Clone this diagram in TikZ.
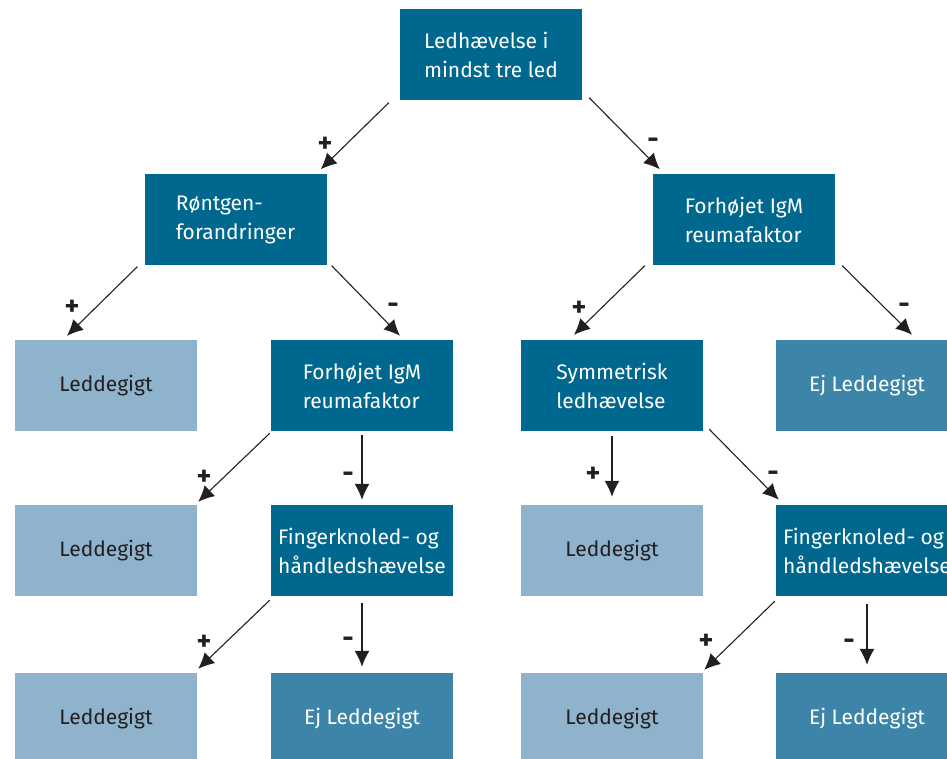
\documentclass[tikz,border=0pt]{standalone}
\usepackage{fontspec}
\setmainfont{Fira Sans}
\usetikzlibrary{arrows.meta}
\definecolor{darkblue}{RGB}{0,104,142}
\definecolor{midblue}{RGB}{60,133,168}
\definecolor{lightblue}{RGB}{143,179,204}
\definecolor{inkgray}{RGB}{35,31,32}
\begin{document}
\begin{tikzpicture}[x=1pt,y=-1pt,
    box/.style={minimum width=182pt,minimum height=91pt,inner sep=0pt,align=left,
      font=\fontsize{21}{29}\selectfont},
    question/.style={box,fill=darkblue,text=white},
    yes/.style={box,fill=lightblue,text=inkgray},
    no/.style={box,fill=midblue,text=white},
    arr/.style={-{Latex[length=16pt,width=15pt]},line width=1.1pt,color=inkgray},
    sign/.style={font=\fontsize{28}{28}\selectfont\bfseries,text=inkgray,inner sep=0pt}]
  \useasboundingbox (0,0) rectangle (947,759);
  \clip (0,0) rectangle (947,759);

  % boxes
  \node[question] (top) at (491,55) {Ledhævelse i\\mindst tre led};
  \node[question] (roent) at (235.5,220) {Røntgen-\\forandringer};
  \node[question] (rheumR) at (744,220) {Forhøjet IgM\\reumafaktor};

  \node[yes] (led1) at (106,385.5) {Leddegigt};
  \node[question] (rheumL) at (362,385.5) {Forhøjet IgM\\reumafaktor};
  \node[question] (sym) at (612,385.5) {Symmetrisk\\ledhævelse};
  \node[no] (ej1) at (867,385.5) {Ej Leddegigt};

  \node[yes] (led2) at (106,550.5) {Leddegigt};
  \node[question] (fing1) at (362,550.5) {Fingerknoled- og\\håndledshævelse};
  \node[yes] (led3) at (612,550.5) {Leddegigt};
  \node[question] (fing2) at (867,550.5) {Fingerknoled- og\\håndledshævelse};

  \node[yes] (led4) at (106,718.5) {Leddegigt};
  \node[no] (ej2) at (362,718.5) {Ej Leddegigt};
  \node[yes] (led5) at (612,718.5) {Leddegigt};
  \node[no] (ej3) at (867,718.5) {Ej Leddegigt};

  % connectors
  \draw[arr] ([shift={(-11,2)}]top.south west) -- ([shift={(-6,-5)}]roent.north east);
  \draw[arr] ([shift={(7,-3)}]top.south east) -- ([shift={(7,-5)}]rheumR.north west);

  \draw[arr] ([shift={(-7,1)}]roent.south west) -- ([shift={(-39,-4)}]led1.north);
  \draw[arr] ([shift={(5,0)}]roent.south east) -- ([shift={(38,-4)}]rheumL.north);
  \draw[arr] ([shift={(-8,0)}]rheumR.south west) -- ([shift={(-38,-5)}]sym.north);
  \draw[arr] ([shift={(7,0)}]rheumR.south east) -- ([shift={(45,-5)}]ej1.north);

  \draw[arr] ([shift={(-1,2)}]rheumL.south west) -- ([shift={(1,-3)}]led2.north east);
  \draw[arr] ([shift={(0,4)}]rheumL.south) -- ([shift={(0,-5)}]fing1.north);
  \draw[arr] ([shift={(0,5)}]sym.south) -- ([shift={(0,-8)}]led3.north);
  \draw[arr] ([shift={(6,-2)}]sym.south east) -- ([shift={(3,-5)}]fing2.north west);

  \draw[arr] ([shift={(-1,4)}]fing1.south west) -- ([shift={(1,-4)}]led4.north east);
  \draw[arr] ([shift={(0,7)}]fing1.south) -- ([shift={(0,-6)}]ej2.north);
  \draw[arr] ([shift={(-1,5)}]fing2.south west) -- ([shift={(1,-3)}]led5.north east);
  \draw[arr] ([shift={(0,8)}]fing2.south) -- ([shift={(0,-8)}]ej3.north);

  % signs
  \node[sign] (p1) at (325,145) {+};
  \node[sign] (m1) at (653,143) {-};
  \node[sign] (p2) at (72,308) {+};
  \node[sign] (m2) at (393,308) {-};
  \node[sign] (p3) at (579,309) {+};
  \node[sign] (m3) at (904,308) {-};
  \node[sign] (p4) at (204,478) {+};
  \node[sign] (m4) at (348,477) {-};
  \node[sign] (p5) at (593,475) {+};
  \node[sign] (m5) at (773,476) {-};
  \node[sign] (p6) at (204,643) {+};
  \node[sign] (m6) at (348,642) {-};
  \node[sign] (p7) at (706,642) {+};
  \node[sign] (m7) at (849,644) {-};
\end{tikzpicture}
\end{document}
